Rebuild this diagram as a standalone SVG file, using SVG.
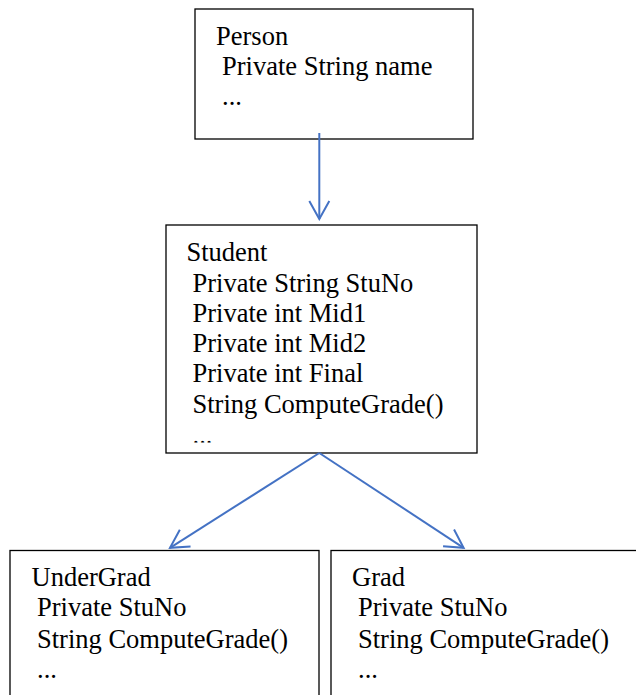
<svg xmlns="http://www.w3.org/2000/svg" width="636" height="695" viewBox="0 0 636 695">
<style>
.box{fill:#fff;stroke:#000;stroke-width:1.3}
.t{font-family:"Liberation Serif","Times New Roman",serif;font-size:26.5px;fill:#000}
.c{fill:none;stroke:#4472C4;stroke-width:2}
</style>
<defs>
<marker id="ah" viewBox="-21 -12 23 24" refX="0" refY="0" markerWidth="23" markerHeight="24" markerUnits="userSpaceOnUse" orient="auto">
<path d="M-18,-10 L0,0 L-18,10" fill="none" stroke="#4472C4" stroke-width="2" stroke-linejoin="miter"/>
</marker>
<clipPath id="stuclip"><rect x="166" y="225" width="311" height="217.5"/></clipPath>
</defs>
<rect width="636" height="695" fill="#fff"/>
<g id="person">
<rect class="box" x="195" y="9" width="278" height="130"/>
<text class="t" x="216" y="45">Person</text>
<text class="t" x="222" y="74.5">Private String name</text>
<text class="t" x="222" y="105">...</text>
</g>
<g id="student">
<rect class="box" x="166" y="225" width="311" height="228"/>
<g clip-path="url(#stuclip)">
<text class="t" x="186.5" y="261">Student</text>
<text class="t" x="192.5" y="291.5">Private String StuNo</text>
<text class="t" x="192.5" y="321.5">Private int Mid1</text>
<text class="t" x="192.5" y="352">Private int Mid2</text>
<text class="t" x="192.5" y="382">Private int Final</text>
<text class="t" x="192.5" y="412.5">String ComputeGrade()</text>
<text class="t" x="192.5" y="443.8" fill="#aaa">...</text>
</g>
</g>
<g id="undergrad">
<rect class="box" x="10" y="550.5" width="309" height="150"/>
<text class="t" x="31.5" y="585.5">UnderGrad</text>
<text class="t" x="37" y="616">Private StuNo</text>
<text class="t" x="37" y="647.5">String ComputeGrade()</text>
<text class="t" x="37" y="678">...</text>
</g>
<g id="grad">
<rect class="box" x="331" y="550.5" width="315" height="150"/>
<text class="t" x="352" y="585.5">Grad</text>
<text class="t" x="358" y="616">Private StuNo</text>
<text class="t" x="358" y="647.5">String ComputeGrade()</text>
<text class="t" x="358" y="678">...</text>
</g>
<g id="connectors">
<line class="c" x1="319.3" y1="133" x2="319.3" y2="219" marker-end="url(#ah)"/>
<line class="c" x1="319.3" y1="453" x2="170" y2="547.8" marker-end="url(#ah)"/>
<line class="c" x1="319.3" y1="453" x2="463.6" y2="547.8" marker-end="url(#ah)"/>
</g>
</svg>
